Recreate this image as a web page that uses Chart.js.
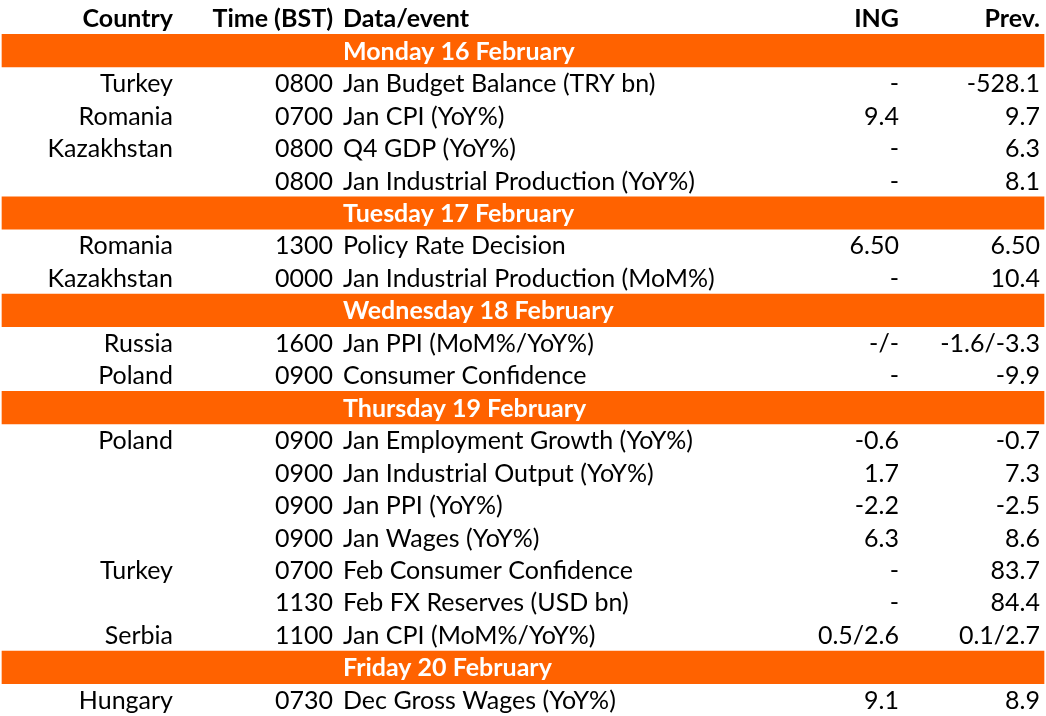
<!DOCTYPE html>
<html>
<head>
<meta charset="utf-8">
<script src="https://cdn.jsdelivr.net/npm/chart.js@4.4.1/dist/chart.umd.min.js"></script>
<style>
  html, body { margin: 0; padding: 0; background: #fff; }
  #wrap { width: 1046px; height: 716px; }
</style>
</head>
<body>
<div id="wrap"><canvas id="calendar"></canvas></div>
<script>
// table content
const columns = ['Country', 'Time (BST)', 'Data/event', 'ING', 'Prev.'];
const days = ['Monday 16 February', 'Tuesday 17 February', 'Wednesday 18 February', 'Thursday 19 February', 'Friday 20 February'];

// one entry per event row; rowDay points into days
const rowDay = [0, 0, 0, 0, 1, 1, 2, 2, 3, 3, 3, 3, 3, 3, 3, 4];
const countries = ['Turkey', 'Romania', 'Kazakhstan', '', 'Romania', 'Kazakhstan', 'Russia', 'Poland',
    'Poland', '', '', '', 'Turkey', '', 'Serbia', 'Hungary'];
const times = ['0800', '0700', '0800', '0800', '1300', '0000', '1600', '0900',
    '0900', '0900', '0900', '0900', '0700', '1130', '1100', '0730'];
const events = ['Jan Budget Balance (TRY bn)', 'Jan CPI (YoY%)', 'Q4 GDP (YoY%)', 'Jan Industrial Production (YoY%)',
    'Policy Rate Decision', 'Jan Industrial Production (MoM%)', 'Jan PPI (MoM%/YoY%)', 'Consumer Confidence',
    'Jan Employment Growth (YoY%)', 'Jan Industrial Output (YoY%)', 'Jan PPI (YoY%)', 'Jan Wages (YoY%)',
    'Feb Consumer Confidence', 'Feb FX Reserves (USD bn)', 'Jan CPI (MoM%/YoY%)', 'Dec Gross Wages (YoY%)'];
const ingValues = ['-', '9.4', '-', '-', '6.50', '-', '-/-', '-',
    '-0.6', '1.7', '-2.2', '6.3', '-', '-', '0.5/2.6', '9.1'];
const prevValues = ['-528.1', '9.7', '6.3', '8.1', '6.50', '10.4', '-1.6/-3.3', '-9.9',
    '-0.7', '7.3', '-2.5', '8.6', '83.7', '84.4', '0.1/2.7', '8.9'];

// layout (x positions on the hidden linear axis, 0..1046)
const colAnchor = [173, 333, 343, 899, 1040];
const colAlign = ['right', 'right', 'left', 'right', 'right'];
const bandStart = 2, bandEnd = 1044;
const orange = '#ff6200';
const fontFamily = 'Lato, "Noto Sans", sans-serif';
const fontSize = 25;

// build the row list: header, then a band per day followed by its events
const rows = [{ type: 'head', cells: columns }];
rowDay.forEach((d, i) => {
    if (i === 0 || rowDay[i - 1] !== d) {
        rows.push({ type: 'day', text: days[d] });
    }
    rows.push({ type: 'data', cells: [countries[i], times[i], events[i], ingValues[i], prevValues[i]] });
});

const labels = rows.map((r, i) => 'r' + i);
const bandData = rows.map(r => r.type === 'day' ? [bandStart, bandEnd] : null);

const tableText = {
    id: 'tableText',
    afterDatasetsDraw(chart) {
        const ctx = chart.ctx;
        const x = chart.scales.x;
        const y = chart.scales.y;
        ctx.save();
        ctx.textBaseline = 'middle';
        rows.forEach((r, i) => {
            const py = y.getPixelForValue(i) + 1;
            if (r.type === 'day') {
                ctx.font = 'bold ' + fontSize + 'px ' + fontFamily;
                ctx.fillStyle = '#ffffff';
                ctx.textAlign = 'left';
                ctx.fillText(r.text, x.getPixelForValue(colAnchor[2]), py);
                return;
            }
            ctx.font = (r.type === 'head' ? 'bold ' : '') + fontSize + 'px ' + fontFamily;
            ctx.fillStyle = '#000000';
            r.cells.forEach((c, j) => {
                if (!c) return;
                ctx.textAlign = colAlign[j];
                ctx.fillText(c, x.getPixelForValue(colAnchor[j]), py);
            });
        });
        ctx.restore();
    }
};

new Chart(document.getElementById('calendar'), {
    type: 'bar',
    data: {
        labels: labels,
        datasets: [{
            data: bandData,
            backgroundColor: orange,
            borderWidth: 0,
            barPercentage: 1,
            categoryPercentage: 1
        }]
    },
    options: {
        indexAxis: 'y',
        responsive: true,
        maintainAspectRatio: false,
        animation: false,
        layout: { padding: { top: 2, bottom: 0, left: 0, right: 0 } },
        scales: {
            x: { type: 'linear', min: 0, max: 1046, display: false },
            y: { display: false }
        },
        plugins: {
            legend: { display: false },
            tooltip: { enabled: false }
        }
    },
    plugins: [tableText]
});
</script>
</body>
</html>
